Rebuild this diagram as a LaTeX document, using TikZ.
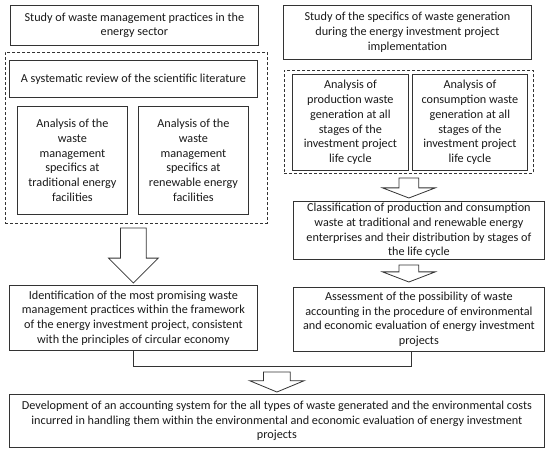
\documentclass[tikz,border=0pt]{standalone}
\usepackage{fontspec}
\setmainfont{Carlito}
\usetikzlibrary{
    shapes.arrows,
    positioning,
    calc,
}
\tikzset{
    boxnode/.style={
            draw=black!80,
            line width=0.8pt,
            align=center,
            anchor=north west,
            inner xsep=1pt,
            inner ysep=0pt,
            text=black!90,
            font=\fontsize{12.2}{14.7}\selectfont,
        }
}
\tikzset{
    dashnode/.style={
            draw=black!80,
            line width=0.8pt,
            dash pattern=on 3pt off 2pt,
            anchor=north west,
            inner sep=0pt,
        }
}
\tikzset{
    hollowarrow/.style={
            single arrow,
            draw=black!80,
            line width=0.8pt,
            fill=white,
            rotate=-90,
            inner xsep=0pt,
            outer sep=0pt,
            single arrow head indent=0pt,
        }
}

\begin{document}
\begin{tikzpicture}[x=1pt,y=-1pt]
    \useasboundingbox (0,0) rectangle (550,453);

    % dashed groups
    \node[dashnode, minimum width=262, minimum height=171] (LD) at (5,52) {};
    \node[dashnode, minimum width=249, minimum height=103] (RD) at (284,70) {};

    % left column
    \node[boxnode, minimum width=248, minimum height=40] (SW) at (10,5)
        {Study of waste management practices in the\\energy sector};
    \node[boxnode, minimum width=248, minimum height=37] (SR) at (9,60)
        {A systematic review of the scientific literature};
    \node[boxnode, minimum width=110, minimum height=108] (TA) at (17,106)
        {Analysis of the\\waste\\management\\specifics at\\traditional energy\\facilities};
    \node[boxnode, minimum width=110, minimum height=108] (RA) at (138,106)
        {Analysis of the\\waste\\management\\specifics at\\renewable energy\\facilities};
    \node[boxnode, minimum width=248, minimum height=65] (ID) at (9,285)
        {Identification of the most promising waste\\management practices within the framework\\of the energy investment project, consistent\\with the principles of circular economy};

    % right column
    \node[boxnode, minimum width=248, minimum height=54] (SS) at (283,5)
        {Study of the specifics of waste generation\\during the energy investment project\\implementation};
    \node[boxnode, minimum width=116, minimum height=96] (PA) at (292,74)
        {Analysis of\\production waste\\generation at all\\stages of the\\investment project\\life cycle};
    \node[boxnode, minimum width=115, minimum height=96] (CA) at (412,74)
        {Analysis of\\consumption waste\\generation at all\\stages of the\\investment project\\life cycle};
    \node[boxnode, minimum width=251, minimum height=58] (CL) at (293,201)
        {Classification of production and consumption\\waste at traditional and renewable energy\\enterprises and their distribution by stages of\\the life cycle};
    \node[boxnode, minimum width=251, minimum height=64] (AS) at (293,287)
        {Assessment of the possibility of waste\\accounting in the procedure of environmental\\and economic evaluation of energy investment\\projects};

    % bottom
    \node[boxnode, minimum width=535, minimum height=53] (DV) at (9,394)
        {Development of an accounting system for the all types of waste generated and the environmental costs\\incurred in handling them within the environmental and economic evaluation of energy investment\\projects};

    % joining line
    \draw[draw=black!80, line width=0.8pt] (ID.south) -- ++(0,16) -| ([xshift=-8pt]AS.south);

    % block arrows
    \node[
        hollowarrow,
        minimum height=55,
        minimum width=49,
        inner ysep=12.5pt,
        single arrow head extend=12pt,
        single arrow tip angle=90,
        anchor=tip,
    ] (A1) at ([yshift=2pt]ID.north) {};
    \node[
        hollowarrow,
        minimum height=20,
        minimum width=52,
        inner ysep=9.5pt,
        single arrow head extend=16.5pt,
        single arrow tip angle=138,
        anchor=tip,
    ] (A2) at ([yshift=3pt]CL.north -| RD.south) {};
    \node[
        hollowarrow,
        minimum height=17,
        minimum width=52,
        inner ysep=9.5pt,
        single arrow head extend=16.5pt,
        single arrow tip angle=138,
        anchor=tip,
    ] (A3) at ([yshift=5pt]AS.north -| RD.south) {};
    \node[
        hollowarrow,
        minimum height=20,
        minimum width=54,
        inner ysep=13pt,
        single arrow head extend=14pt,
        single arrow tip angle=135,
        anchor=tip,
    ] (A4) at ([yshift=2pt]DV.north) {};
\end{tikzpicture}
\end{document}
